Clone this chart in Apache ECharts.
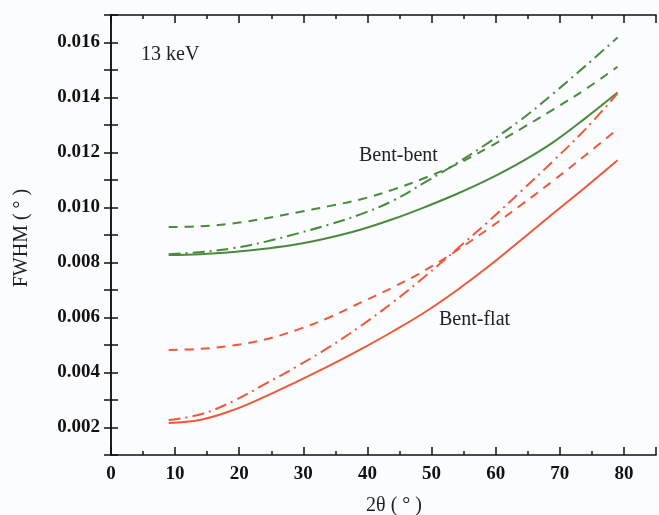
<!DOCTYPE html>
<html>
<head>
<meta charset="utf-8">
<script src="https://cdn.jsdelivr.net/npm/echarts@6/dist/echarts.min.js"></script>
<style>html,body{margin:0;padding:0;background:#fafcfe;}#c{width:659px;height:515px;}</style>
</head>
<body>
<div id="c"></div>
<script>
// 2θ (degrees)
const twoTheta = [9, 14, 19, 24, 29, 34, 39, 44, 49, 54, 59, 64, 69, 74, 79];
// FWHM values (degrees)
const bentBentSolid   = [0.00827, 0.00830, 0.00838, 0.00850, 0.00866, 0.00890, 0.00920, 0.00958, 0.01002, 0.01050, 0.01104, 0.01166, 0.01238, 0.01325, 0.01418];
const bentBentDashed  = [0.00929, 0.00932, 0.00942, 0.00960, 0.00982, 0.01005, 0.01030, 0.01065, 0.01108, 0.01158, 0.01220, 0.01287, 0.01357, 0.01430, 0.01512];
const bentBentDashDot = [0.00830, 0.00838, 0.00852, 0.00875, 0.00905, 0.00938, 0.00976, 0.01025, 0.01092, 0.01162, 0.01238, 0.01320, 0.01415, 0.01515, 0.01618];
const bentFlatSolid   = [0.00216, 0.00228, 0.00263, 0.00312, 0.00367, 0.00424, 0.00485, 0.00550, 0.00620, 0.00700, 0.00788, 0.00883, 0.00979, 0.01074, 0.01172];
const bentFlatDashed  = [0.00482, 0.00486, 0.00498, 0.00520, 0.00555, 0.00600, 0.00655, 0.00710, 0.00772, 0.00845, 0.00925, 0.01010, 0.01098, 0.01190, 0.01285];
const bentFlatDashDot = [0.00227, 0.00248, 0.00295, 0.00358, 0.00422, 0.00492, 0.00570, 0.00656, 0.00750, 0.00850, 0.00952, 0.01060, 0.01170, 0.01285, 0.01415];

const GREEN = '#4b8a3d';
const RED = '#f1583a';
const zip = ys => twoTheta.map((x, i) => [x, ys[i]]);

const chart = echarts.init(document.getElementById('c'), null, {renderer: 'canvas'});
const axisLine = {show: true, lineStyle: {color: '#111', width: 1.5}};
const serif = '"Liberation Serif", "Times New Roman", serif';

function mkSeries(data, color, type) {
  return {
    type: 'line', data: zip(data), smooth: 0.4, symbol: 'none',
    xAxisIndex: 0, yAxisIndex: 0,
    lineStyle: {color: color, width: 2, type: type}
  };
}

chart.setOption({
  backgroundColor: '#fafcfe',
  animation: false,
  grid: {left: 111, right: 2, top: 15, bottom: 60},
  xAxis: [{
    type: 'value', min: 0, max: 85, interval: 10,
    axisLine: axisLine,
    axisTick: {show: true, inside: true, length: 8, lineStyle: {color: '#111', width: 1.5}},
    minorTick: {show: true, splitNumber: 2, length: 4, lineStyle: {color: '#111', width: 1.5}},
    splitLine: {show: false},
    axisLabel: {color: '#111', fontFamily: serif, fontWeight: 'bold', fontSize: 19, margin: 10,
      formatter: v => (v <= 80 ? String(v) : '')}
  }, {
    type: 'value', min: 0, max: 85, interval: 10, position: 'top',
    axisLine: axisLine,
    axisTick: {show: true, inside: true, length: 8, lineStyle: {color: '#111', width: 1.5}},
    minorTick: {show: true, splitNumber: 2, length: 4, lineStyle: {color: '#111', width: 1.5}},
    splitLine: {show: false}, axisLabel: {show: false}
  }],
  yAxis: [{
    type: 'value', min: 0.001, max: 0.017, interval: 0.001,
    axisLine: axisLine,
    axisTick: {show: true, inside: true, length: 7, lineStyle: {color: '#111', width: 1.5}},
    splitLine: {show: false},
    axisLabel: {color: '#111', fontFamily: serif, fontWeight: 'bold', fontSize: 19, margin: 11,
      formatter: v => { const k = Math.round(v * 1000); return (k % 2 === 0 && k < 17) ? (k / 1000).toFixed(3) : ''; }}
  }, {
    type: 'value', min: 0.001, max: 0.017, interval: 0.001, position: 'right',
    axisLine: axisLine,
    axisTick: {show: true, inside: true, length: 7, lineStyle: {color: '#111', width: 1.5}},
    splitLine: {show: false}, axisLabel: {show: false}
  }],
  series: [
    mkSeries(bentBentSolid, GREEN, 'solid'),
    mkSeries(bentBentDashed, GREEN, [9, 7]),
    mkSeries(bentBentDashDot, GREEN, [12, 5, 2, 5]),
    mkSeries(bentFlatSolid, RED, 'solid'),
    mkSeries(bentFlatDashed, RED, [9, 7]),
    mkSeries(bentFlatDashDot, RED, [12, 5, 2, 5])
  ],
  graphic: [
    {type: 'text', x: 141, y: 55, style: {text: '13 keV', font: '20px ' + serif, fill: '#222', verticalAlign: 'middle', align: 'left'}},
    {type: 'text', x: 359, y: 156, style: {text: 'Bent-bent', font: '20px ' + serif, fill: '#222', verticalAlign: 'middle', align: 'left'}},
    {type: 'text', x: 439, y: 320, style: {text: 'Bent-flat', font: '20px ' + serif, fill: '#222', verticalAlign: 'middle', align: 'left'}},
    {type: 'text', x: 394, y: 506, style: {text: '2θ ( ° )', font: '20px ' + serif, fill: '#222', verticalAlign: 'middle', align: 'center'}},
    {type: 'text', x: 22, y: 238, rotation: Math.PI / 2, style: {text: 'FWHM ( ° )', font: '20px ' + serif, fill: '#222', verticalAlign: 'middle', align: 'center'}}
  ]
});
</script>
</body>
</html>
